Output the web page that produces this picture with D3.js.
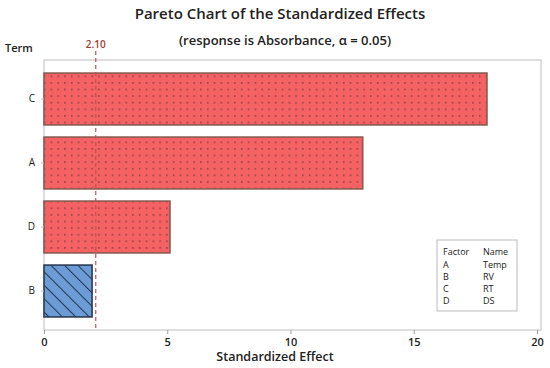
<!doctype html>
<html lang="en">
<head>
<script src="https://d3js.org/d3.v7.min.js"></script>
<style>
  body { margin: 0; background: #fff; }
  text { font-family: "Open Sans", "Noto Sans", sans-serif; }
  .title { font-size: 15px; font-weight: 600; text-anchor: middle; fill: #222; }
  .subtitle { font-size: 13px; font-weight: 600; text-anchor: middle; fill: #222; }
  .lab { font-size: 11px; font-weight: 600; fill: #222; }
  .tick text { font-size: 11px; font-weight: 600; fill: #222; }
  .legend text { font-size: 9px; fill: #222; }
</style>
</head>
<body>
<div id="chart"></div>
<script>
  // data
  let terms = ["C", "A", "D", "B"];
  let effects = [17.97, 12.93, 5.11, 1.95];
  let significant = [true, true, true, false];
  let refValue = 2.10;
  let xTicks = [0, 5, 10, 15, 20];
  let factors = ["A", "B", "C", "D"];
  let names = ["Temp", "RV", "RT", "DS"];

  let W = 550, H = 368;
  let svg = d3.select("#chart").append("svg")
      .attr("width", W).attr("height", H);

  let defs = svg.append("defs");
  let dots = defs.append("pattern").attr("id", "dots")
      .attr("patternUnits", "userSpaceOnUse")
      .attr("width", 6.8).attr("height", 6.6);
  dots.append("rect").attr("width", 6.8).attr("height", 6.6).attr("fill", "#f46264");
  dots.append("rect").attr("x", 3).attr("y", 3).attr("width", 1.4).attr("height", 1.4).attr("fill", "#7a3640");

  let hatch = defs.append("pattern").attr("id", "hatch")
      .attr("patternUnits", "userSpaceOnUse")
      .attr("width", 9.5).attr("height", 9.5)
      .attr("patternTransform", "rotate(-45)");
  hatch.append("rect").attr("width", 9.5).attr("height", 9.5).attr("fill", "#6c9bd6");
  hatch.append("line").attr("x1", 0).attr("y1", 0).attr("x2", 0).attr("y2", 9.5)
      .attr("stroke", "#1e3550").attr("stroke-width", 2);

  let pLeft = 44, pRight = 541, pTop = 60, pBottom = 330;

  let x = d3.scaleLinear().domain([0, 20]).range([pLeft, 537]);
  let y = d3.scaleBand().domain(terms).range([67, 323])
      .paddingInner(0.19).paddingOuter(0.095);

  // frame
  svg.append("rect").attr("x", pLeft).attr("y", pTop)
      .attr("width", pRight - pLeft).attr("height", pBottom - pTop)
      .attr("fill", "none").attr("stroke", "#c9c9c9").attr("stroke-width", 1.2);

  // titles
  svg.append("text").attr("class", "title").attr("x", 280).attr("y", 19)
      .text("Pareto Chart of the Standardized Effects");
  svg.append("text").attr("class", "subtitle").attr("x", 285).attr("y", 45)
      .text("(response is Absorbance, \u03b1 = 0.05)");
  svg.append("text").attr("class", "lab").attr("x", 5).attr("y", 52).text("Term");
  svg.append("text").attr("class", "lab").attr("x", 275).attr("y", 361)
      .attr("text-anchor", "middle").style("font-size", "12.5px").text("Standardized Effect");

  // bars
  svg.selectAll("rect.bar").data(terms).enter().append("rect")
      .attr("class", "bar")
      .attr("x", x(0))
      .attr("y", d => y(d))
      .attr("width", (d, i) => x(effects[i]) - x(0))
      .attr("height", y.bandwidth())
      .attr("fill", (d, i) => significant[i] ? "url(#dots)" : "url(#hatch)")
      .attr("stroke", (d, i) => significant[i] ? "#8a5a50" : "#2a3d55")
      .attr("stroke-width", 1.6);

  // axes
  let xAxis = svg.append("g").attr("transform", "translate(0," + pBottom + ")")
      .call(d3.axisBottom(x).tickValues(xTicks).tickSize(4).tickPadding(4));
  xAxis.select(".domain").remove();
  xAxis.selectAll(".tick line").attr("stroke", "#999");

  let yAxis = svg.append("g").attr("transform", "translate(" + pLeft + ",0)")
      .call(d3.axisLeft(y).tickSize(3).tickPadding(6));
  yAxis.select(".domain").remove();
  yAxis.selectAll(".tick line").attr("stroke", "#bbb");
  yAxis.selectAll(".tick text").style("font-size", "10px").style("font-weight", "400");

  // reference line
  svg.append("line").attr("x1", x(refValue)).attr("x2", x(refValue))
      .attr("y1", 51).attr("y2", pBottom)
      .attr("stroke", "#c0504d").attr("stroke-width", 1.2)
      .attr("stroke-dasharray", "4,3");
  svg.append("text").attr("x", x(refValue)).attr("y", 48)
      .attr("text-anchor", "middle").style("font-size", "10px").style("font-weight", "600")
      .attr("fill", "#a33a35")
      .text(refValue.toFixed(2));

  // legend
  let lg = svg.append("g").attr("class", "legend");
  lg.append("rect").attr("x", 437).attr("y", 240).attr("width", 80).attr("height", 71)
      .attr("fill", "#fff").attr("stroke", "#bbb");
  lg.append("text").attr("x", 443).attr("y", 255).text("Factor");
  lg.append("text").attr("x", 483).attr("y", 255).text("Name");
  factors.forEach((f, i) => {
    lg.append("text").attr("x", 443).attr("y", 267.5 + i * 12).text(f);
    lg.append("text").attr("x", 483).attr("y", 267.5 + i * 12).text(names[i]);
  });
</script>
</body>
</html>
